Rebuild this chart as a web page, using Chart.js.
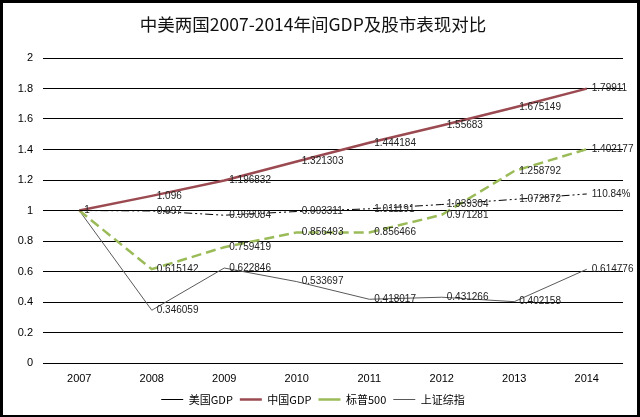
<!DOCTYPE html>
<html>
<head>
<meta charset="utf-8">
<script src="https://cdn.jsdelivr.net/npm/chart.js@4"></script>
<style>
    body { margin: 0; background: #fff; }
    .frame {
        width: 640px;
        height: 417px;
        box-sizing: border-box;
        border-style: solid;
        border-color: #000;
        border-width: 3px 3px 2px 3px;
        background: #fff;
    }
    canvas { display: block; }
</style>
</head>
<body>
<div class="frame">
    <canvas id="gdpChart" width="634" height="412"></canvas>
</div>
<script>
// data
const years = ['2007', '2008', '2009', '2010', '2011', '2012', '2013', '2014'];
const usGdp = [1, 0.997, 0.969084, 0.993311, 1.011191, 1.039304, 1.072872, 1.1084];
const chinaGdp = [1, 1.096, 1.196832, 1.321303, 1.444184, 1.55683, 1.675149, 1.79911];
const sp500 = [1, 0.615142, 0.759419, 0.856493, 0.856466, 0.971281, 1.258792, 1.402177];
const shanghai = [1, 0.346059, 0.622846, 0.533697, 0.418017, 0.431266, 0.402158, 0.614776];
// the last US value is shown as a percentage in the original
const usGdpLabels = [null, null, null, null, null, null, null, '110.84%'];
const yTicks = { min: 0, max: 2, step: 0.2 };

const numberFont = "'Liberation Sans', 'Noto Sans CJK SC', sans-serif";
const cjkFont = "'Noto Sans CJK SC', 'Liberation Sans', sans-serif";

// draws the value next to every point, to the right of it
const pointLabels = {
    id: 'pointLabels',
    afterDatasetsDraw(chart) {
        const ctx = chart.ctx;
        const done = {};
        ctx.save();
        ctx.font = '10px ' + numberFont;
        ctx.fillStyle = '#222';
        ctx.textAlign = 'left';
        ctx.textBaseline = 'middle';
        chart.data.datasets.forEach((ds, i) => {
            const meta = chart.getDatasetMeta(i);
            meta.data.forEach((pt, j) => {
                let text = String(ds.data[j]);
                if (ds.valueLabels && ds.valueLabels[j]) text = ds.valueLabels[j];
                const key = text + '@' + Math.round(pt.x) + ',' + Math.round(pt.y);
                if (done[key]) return;   // the four series all start at 1
                done[key] = true;
                ctx.fillText(text, pt.x + 5, pt.y);
            });
        });
        ctx.restore();
    }
};

new Chart(document.getElementById('gdpChart'), {
    type: 'line',
    data: {
        labels: years,
        datasets: [
            {
                label: '美国GDP',
                data: usGdp,
                valueLabels: usGdpLabels,
                borderColor: '#000',
                backgroundColor: '#000',
                borderWidth: 1,
                borderDash: [8, 3, 2, 3, 2, 3]
            },
            {
                label: '中国GDP',
                data: chinaGdp,
                borderColor: '#9a4a50',
                backgroundColor: '#9a4a50',
                borderWidth: 2.5
            },
            {
                label: '标普500',
                data: sp500,
                borderColor: '#9bbb59',
                backgroundColor: '#9bbb59',
                borderWidth: 2.5,
                borderDash: [10, 5]
            },
            {
                label: '上证综指',
                data: shanghai,
                borderColor: '#595959',
                backgroundColor: '#595959',
                borderWidth: 1
            }
        ]
    },
    options: {
        responsive: false,
        animation: false,
        elements: {
            point: { radius: 0, hoverRadius: 0 },
            line: { tension: 0 }
        },
        layout: { padding: { left: 0, right: 14, top: 0, bottom: 0 } },
        scales: {
            x: {
                offset: true,
                grid: { display: false, drawTicks: false },
                border: { display: false },
                ticks: {
                    color: '#000',
                    padding: 9,
                    font: { size: 11, family: numberFont }
                },
                afterFit(scale) { scale.height = 24; }
            },
            y: {
                min: yTicks.min,
                max: yTicks.max,
                grid: { color: '#000', lineWidth: 1, drawTicks: false },
                border: { display: false },
                ticks: {
                    stepSize: yTicks.step,
                    color: '#000',
                    padding: 10,
                    font: { size: 11, family: numberFont },
                    callback: (v) => String(Number(v.toFixed(1)))
                },
                afterFit(scale) { scale.width = 40; }
            }
        },
        plugins: {
            title: {
                display: true,
                text: '中美两国2007-2014年间GDP及股市表现对比',
                color: '#111',
                font: { size: 17.5, weight: 'normal', family: cjkFont },
                padding: { top: 11, bottom: 23 }
            },
            legend: {
                position: 'bottom',
                labels: {
                    usePointStyle: true,
                    pointStyle: 'line',
                    pointStyleWidth: 22,
                    padding: 7,
                    color: '#000',
                    font: { size: 11, family: cjkFont }
                }
            },
            tooltip: { enabled: false }
        }
    },
    plugins: [pointLabels]
});
</script>
</body>
</html>
